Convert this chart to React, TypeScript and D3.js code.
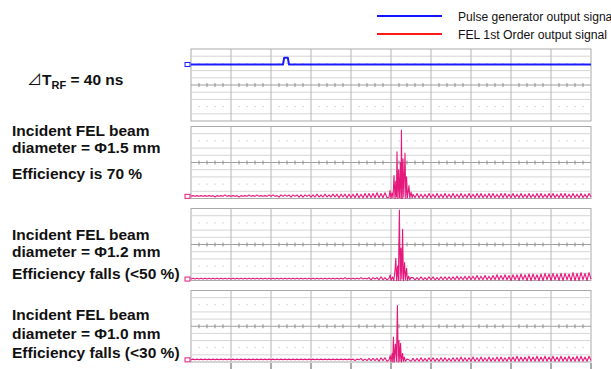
import React from 'react';
import * as d3 from 'd3';

// ---------- data ----------
const legendLabels = ['Pulse generator output signal', 'FEL 1st Order output signal'];
const legendColors = ['#1414ff', '#ff1a1a'];

const deltaLabel = { pre: '⊿', t: 'T', sub: 'RF', post: ' = 40 ns' };
const caseLines = [
  ['Incident FEL beam', 'diameter = Φ1.5 mm', 'Efficiency is 70 %'],
  ['Incident FEL beam', 'diameter = Φ1.2 mm', 'Efficiency falls (<50 %)'],
  ['Incident FEL beam', 'diameter = Φ1.0 mm', 'Efficiency falls (<30 %)'],
];

const timeDomain: [number, number] = [0, 10]; // divisions
const levelDomain: [number, number] = [0, 100]; // % of screen height
const SAMPLE_DT = 0.05;

// pulse generator trace (time div, level)
const blueTrace: [number, number][] = [
  [0, 78.5], [2.3, 78.5], [2.33, 88], [2.42, 88], [2.45, 78.5], [10, 78.5],
];

// FEL ripple samples every 0.05 div
const ripple15 = [
  3,4,3,4,3,4,3,4,3,4, 3,4,2,4,3,4,3,5,3,4, 3,4,3,4,2,4,3,4,3,5, 3,4,3,5,3,4,3,4,3,5,
  3,5,3,4,2,5,3,5,3,5, 2,5,3,5,2,5,2,5,3,5, 2,5,2,6,2,5,2,6,2,5, 2,6,2,6,1,6,2,6,1,6,
  1,6,1,7,1,6,1,7,1,7, 1,7,1,8,1,7,1,8,1,8, 3,3,3,3,3,3,3,3,3,3, 1,6,1,7,1,6,1,6,1,7,
  1,6,1,7,1,6,1,7,1,6, 1,7,1,6,1,7,1,6,1,7, 1,6,1,7,1,7,1,6,1,7, 1,7,1,6,1,7,1,7,1,6,
  1,7,1,6,1,7,1,6,1,7, 1,6,1,7,1,7,1,6,1,7, 1,7,1,6,1,7,1,7,1,6, 1,7,1,6,1,7,1,6,1,7, 2,
];
const ripple12 = [
  2,3,2,3,2,3,2,3,2,3, 2,3,2,3,2,3,2,3,2,3, 2,3,2,3,2,3,2,3,2,3, 2,3,2,3,2,3,2,3,2,3,
  2,3,2,3,2,3,2,3,2,3, 2,3,2,3,2,3,2,3,2,3, 2,3,2,3,2,3,2,3,2,3, 2,3,2,3,2,3,2,4,2,3,
  2,3,2,3,2,4,2,3,2,4, 1,4,2,4,1,5,1,4,1,5, 3,3,3,3,3,3,3,3,3,3, 1,4,1,4,1,5,1,4,1,5,
  1,5,1,4,1,5,1,5,1,5, 1,5,1,6,1,5,1,6,1,6, 1,6,1,7,1,6,1,7,1,6, 1,7,1,8,1,7,1,8,1,7,
  0,8,1,8,0,9,1,8,0,9, 0,9,1,8,0,9,0,10,1,9, 0,10,1,9,0,10,0,10,1,9, 0,11,0,10,0,11,1,10,0,11, 2,
];
const ripple10 = [
  3,4,3,4,3,4,3,4,3,4, 3,4,3,4,3,4,3,4,3,4, 3,4,3,4,3,4,3,4,3,4, 3,4,3,4,3,4,3,4,3,4,
  3,4,3,4,3,4,3,4,3,4, 3,4,3,4,3,4,3,4,3,4, 3,4,3,4,3,4,3,4,3,4, 3,4,3,4,3,4,3,4,3,4,
  3,4,2,4,3,5,2,4,2,5, 2,5,2,5,1,6,2,6,1,6, 3,3,3,3,3,3,3,3,3,3, 1,5,1,5,1,6,1,5,1,6,
  1,6,1,5,1,6,1,6,1,5, 1,6,1,6,1,7,1,6,1,6, 1,7,1,6,1,7,1,6,1,7, 1,6,1,7,1,7,1,6,1,7,
  1,7,1,8,1,7,1,7,1,8, 1,7,1,8,1,7,1,8,1,7, 1,8,1,7,1,8,1,7,1,8, 1,7,1,8,1,8,1,7,1,8, 2,
];

// main pulse bursts (time div, level)
const spikes15: [number, number][] = [
  [4.95,2],[4.975,11],[5.0,0],[5.025,8],[5.05,1],[5.075,32],[5.1,0],[5.12,24],[5.135,2],
  [5.15,65],[5.17,0],[5.19,40],[5.21,1],[5.235,50],[5.25,0],[5.26,95],[5.28,0],[5.3,55],
  [5.32,2],[5.35,63],[5.37,0],[5.39,30],[5.41,1],[5.45,18],[5.47,0],[5.5,9],[5.53,1],
];
const spikes12: [number, number][] = [
  [4.95,3],[4.98,8],[5.0,0],[5.04,5],[5.07,0],[5.1,14],[5.12,31],[5.14,0],[5.165,20],
  [5.185,0],[5.21,98],[5.23,0],[5.25,45],[5.27,2],[5.29,71],[5.31,0],[5.34,25],[5.36,1],
  [5.39,17],[5.41,0],[5.44,6],[5.47,1],[5.5,4],
];
const spikes10: [number, number][] = [
  [4.95,3],[4.98,9],[5.0,0],[5.03,12],[5.045,0],[5.06,35],[5.08,0],[5.11,25],[5.135,1],
  [5.16,79],[5.18,0],[5.2,30],[5.22,1],[5.24,26],[5.26,0],[5.29,12],[5.31,1],[5.33,7],
  [5.36,1],[5.4,4],
];

function buildTrace(ripple: number[], spikes: [number, number][]): [number, number][] {
  const s0 = spikes[0][0];
  const s1 = spikes[spikes.length - 1][0];
  const pts: [number, number][] = [];
  ripple.forEach((v, i) => {
    const t = i * SAMPLE_DT;
    if (t < s0 - 1e-9 || t > s1 + 1e-9) pts.push([t, v]);
  });
  pts.push(...spikes);
  pts.sort((a, b) => a[0] - b[0]);
  return pts;
}

const W = 611;
const H = 369;
const FONT = '"Liberation Sans", Arial, Helvetica, sans-serif';
const PINK = '#e5197c';
const BLUE = '#1a1aff';

function Panel({ top, bottom, trace, color, width, last }: any) {
  const x = d3.scaleLinear().domain(timeDomain).range([191, 591]);
  const y = d3.scaleLinear().domain(levelDomain).range([bottom, top]);
  const line = d3.line<[number, number]>().x(d => x(d[0])).y(d => y(d[1]));
  const majors = d3.range(1, 10);
  const hLines = [10, 30, 40, 60, 70, 90];
  const minorT = d3.range(0, 10.001, 0.2).filter(t => Math.abs(t - Math.round(t)) > 0.01);
  return (
    <g>
      <rect x={x(0)} y={top} width={x(10) - x(0)} height={bottom - top} fill="#fff" stroke="#a9a9a9" strokeWidth={1} />
      {hLines.map(v => (
        <line key={'h' + v} x1={x(0)} x2={x(10)} y1={y(v)} y2={y(v)} stroke="#d6d6d6" strokeWidth={1} />
      ))}
      {majors.map(t => (
        <line key={'v' + t} x1={x(t)} x2={x(t)} y1={top} y2={bottom} stroke="#b4b4b4" strokeWidth={1} />
      ))}
      <line x1={x(0)} x2={x(10)} y1={y(50)} y2={y(50)} stroke="#a0a0a0" strokeWidth={1} />
      {minorT.map(t => (
        <line key={'c' + t} x1={x(t)} x2={x(t)} y1={y(50) - 2} y2={y(50) + 2} stroke="#8a8a8a" strokeWidth={1} />
      ))}
      {[20, 80].map(v =>
        minorT.map(t => (
          <rect key={'d' + v + '_' + t} x={x(t) - 0.5} y={y(v) - 0.5} width={1} height={1} fill="#b0b0b0" />
        ))
      )}
      <path d={line(trace) || ''} fill="none" stroke={color} strokeWidth={width} strokeLinejoin="round" />
      <rect x={185} y={y(trace[0][1]) - 2} width={5} height={4} fill="none" stroke={color} strokeWidth={1} />
      {last &&
        d3.range(1, 11).map(t => (
          <line key={'b' + t} x1={x(t)} x2={x(t)} y1={bottom + 1} y2={bottom + 7} stroke="#555" strokeWidth={1} />
        ))}
    </g>
  );
}

export default function App() {
  const panels = [
    { top: 49, bottom: 121, trace: blueTrace, color: BLUE, width: 2 },
    { top: 126.5, bottom: 198.5, trace: buildTrace(ripple15, spikes15), color: PINK, width: 1.1 },
    { top: 208.5, bottom: 280.5, trace: buildTrace(ripple12, spikes12), color: PINK, width: 1.1 },
    { top: 290.5, bottom: 362, trace: buildTrace(ripple10, spikes10), color: PINK, width: 1.1 },
  ];
  const textBaselines = [
    [136, 153, 179],
    [239.5, 257, 278.5],
    [320, 338.5, 357.5],
  ];
  const legendWidths = [157, 149];
  return (
    <svg width={W} height={H} style={{ position: 'absolute', left: 0, top: 0, background: '#fff' }} fontFamily={FONT}>
      <rect x={0} y={0} width={W} height={H} fill="#fff" />
      {/* legend */}
      {legendLabels.map((l, i) => (
        <g key={l}>
          <line x1={377} x2={442} y1={16 + i * 18} y2={16 + i * 18} stroke={legendColors[i]} strokeWidth={2} />
          <text x={458} y={20.5 + i * 18} fontSize={12} fill="#111" textLength={legendWidths[i]} lengthAdjust="spacingAndGlyphs">{l}</text>
        </g>
      ))}
      {panels.map((p, i) => (
        <Panel key={i} {...p} last={i === panels.length - 1} />
      ))}
      <text x={27} y={85} fontSize={15.5} fontWeight="bold" fill="#111">
        <tspan fontFamily='"Noto Sans CJK JP", "DejaVu Sans", sans-serif' fontWeight="normal" fontSize={15}>{deltaLabel.pre}</tspan>
        <tspan>{deltaLabel.t}</tspan>
        <tspan fontSize={11} dy={4}>{deltaLabel.sub}</tspan>
        <tspan dy={-4}>{deltaLabel.post}</tspan>
      </text>
      {caseLines.map((lines, i) =>
        lines.map((s, j) => (
          <text key={i + '_' + j} x={12} y={textBaselines[i][j]} fontSize={15.5} fontWeight="bold" fill="#111">{s}</text>
        ))
      )}
    </svg>
  );
}
